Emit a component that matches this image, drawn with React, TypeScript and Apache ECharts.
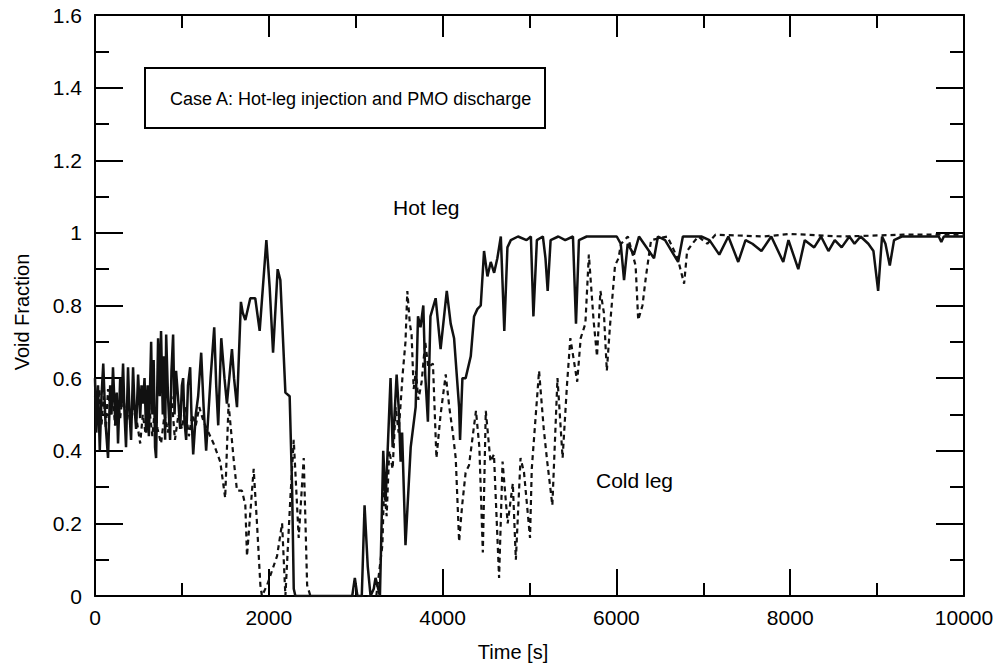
import React, { useEffect, useRef } from "react";
import * as echarts from "echarts";

// Tick values / labels
const xTicks = [0, 2000, 4000, 6000, 8000, 10000];
const yTicks = [0, 0.2, 0.4, 0.6, 0.8, 1, 1.2, 1.4, 1.6];

const titleText = "Case A: Hot-leg injection and PMO discharge";
const xAxisTitle = "Time [s]";
const yAxisTitle = "Void Fraction";
const hotLabel = "Hot leg";
const coldLabel = "Cold leg";

// Hot leg (solid) : [time s, void fraction]
const hotLeg: [number, number][] = [
  [0, 0.6], [15, 0.45], [35, 0.58], [55, 0.4], [75, 0.55], [95, 0.64], [120, 0.48], [150, 0.38],
  [175, 0.58], [190, 0.5], [207, 0.63], [235, 0.47], [250, 0.56], [265, 0.42], [290, 0.6], [305, 0.52],
  [323, 0.64], [340, 0.5], [357, 0.41], [380, 0.63], [398, 0.5], [415, 0.43], [438, 0.63], [455, 0.52],
  [473, 0.46], [496, 0.61], [520, 0.49], [535, 0.58], [553, 0.53], [570, 0.6], [588, 0.45], [605, 0.58],
  [620, 0.44], [646, 0.7], [660, 0.5], [675, 0.65], [691, 0.41], [703, 0.38], [726, 0.71], [745, 0.55],
  [760, 0.73], [780, 0.5], [795, 0.66], [807, 0.43], [819, 0.72], [840, 0.55], [864, 0.43], [880, 0.62],
  [899, 0.72], [915, 0.5], [933, 0.62], [955, 0.55], [980, 0.46], [1000, 0.58], [1014, 0.6], [1030, 0.48],
  [1049, 0.43], [1070, 0.58], [1095, 0.63], [1110, 0.5], [1130, 0.39], [1160, 0.5], [1187, 0.55], [1222, 0.67],
  [1250, 0.52], [1279, 0.4], [1330, 0.6], [1372, 0.74], [1395, 0.58], [1418, 0.47], [1453, 0.71], [1490, 0.6],
  [1518, 0.53], [1576, 0.68], [1600, 0.6], [1634, 0.52], [1679, 0.81], [1700, 0.78], [1730, 0.76], [1787, 0.82],
  [1844, 0.82], [1895, 0.73], [1972, 0.98], [2010, 0.85], [2049, 0.67], [2102, 0.9], [2133, 0.87], [2191, 0.56],
  [2240, 0.55], [2268, 0.3], [2287, 0.02], [2306, 0], [2960, 0], [2990, 0.05], [3020, 0], [3070, 0],
  [3102, 0.25], [3139, 0.08], [3171, 0], [3208, 0.02], [3228, 0.05], [3279, 0], [3317, 0.4], [3344, 0.26],
  [3376, 0.45], [3401, 0.6], [3425, 0.41], [3445, 0.49], [3471, 0.61], [3494, 0.52], [3517, 0.37], [3534, 0.45],
  [3573, 0.14], [3633, 0.41], [3690, 0.52], [3717, 0.77], [3746, 0.74], [3778, 0.8], [3800, 0.61], [3831, 0.48],
  [3860, 0.77], [3920, 0.82], [3977, 0.68], [4048, 0.84], [4093, 0.75], [4132, 0.71], [4190, 0.52], [4201, 0.43],
  [4228, 0.6], [4265, 0.6], [4324, 0.66], [4362, 0.77], [4400, 0.79], [4439, 0.8], [4477, 0.95], [4516, 0.88],
  [4554, 0.92], [4593, 0.89], [4630, 0.93], [4670, 0.99], [4710, 0.73], [4746, 0.96], [4785, 0.98], [4868, 0.99],
  [4966, 0.98], [5016, 0.99], [5045, 0.77], [5085, 0.98], [5154, 0.99], [5184, 0.93], [5209, 0.84], [5243, 0.98],
  [5332, 0.99], [5411, 0.98], [5500, 0.99], [5535, 0.75], [5569, 0.98], [5658, 0.99], [5806, 0.99], [6004, 0.99],
  [6050, 0.97], [6088, 0.87], [6130, 0.97], [6201, 0.94], [6260, 0.99], [6433, 0.93], [6478, 0.99], [6560, 0.98],
  [6710, 0.92], [6765, 0.99], [6977, 0.99], [7071, 0.98], [7184, 0.94], [7288, 0.99], [7402, 0.92], [7486, 0.98],
  [7565, 0.97], [7669, 0.95], [7782, 0.99], [7920, 0.92], [7980, 0.98], [8093, 0.9], [8168, 0.98], [8276, 0.96],
  [8355, 0.99], [8440, 0.95], [8513, 0.98], [8592, 0.96], [8681, 0.99], [8740, 0.97], [8810, 0.99], [8899, 0.97],
  [8958, 0.95], [9012, 0.84], [9057, 0.99], [9096, 0.97], [9146, 0.91], [9195, 0.98], [9284, 0.99], [9709, 0.99],
  [9739, 0.975], [9768, 0.99], [10000, 0.99],
];

// Cold leg (dashed) : [time s, void fraction]
const coldLeg: [number, number][] = [
  [0, 0.55], [25, 0.5], [50, 0.57], [75, 0.47], [100, 0.55], [125, 0.46], [150, 0.57], [180, 0.5],
  [205, 0.56], [230, 0.47], [260, 0.54], [290, 0.49], [320, 0.56], [350, 0.5], [380, 0.52], [410, 0.47],
  [440, 0.52], [470, 0.5], [520, 0.42], [550, 0.5], [580, 0.45], [620, 0.53], [660, 0.44], [690, 0.52],
  [720, 0.46], [760, 0.42], [800, 0.5], [840, 0.45], [880, 0.55], [920, 0.43], [960, 0.5], [1000, 0.46],
  [1040, 0.52], [1080, 0.44], [1120, 0.5], [1160, 0.47], [1200, 0.52], [1250, 0.48], [1288, 0.46], [1364, 0.42],
  [1441, 0.37], [1498, 0.27], [1537, 0.53], [1594, 0.38], [1634, 0.29], [1691, 0.29], [1730, 0.25], [1749, 0.11],
  [1826, 0.35], [1864, 0.2], [1903, 0.03], [1921, 0], [1980, 0.03], [2095, 0.11], [2153, 0.2], [2191, 0],
  [2248, 0.27], [2287, 0.43], [2344, 0.16], [2402, 0.38], [2441, 0.03], [2479, 0], [3237, 0], [3277, 0.08],
  [3307, 0.14], [3326, 0.3], [3356, 0.22], [3386, 0.4], [3425, 0.35], [3460, 0.52], [3494, 0.45], [3540, 0.61],
  [3573, 0.7], [3594, 0.84], [3623, 0.75], [3643, 0.72], [3667, 0.57], [3692, 0.62], [3721, 0.54], [3759, 0.59],
  [3800, 0.7], [3835, 0.63], [3889, 0.64], [3929, 0.38], [3977, 0.5], [4036, 0.61], [4077, 0.52], [4117, 0.45],
  [4151, 0.38], [4190, 0.15], [4225, 0.25], [4265, 0.34], [4304, 0.36], [4384, 0.51], [4423, 0.41], [4463, 0.12],
  [4497, 0.51], [4551, 0.37], [4591, 0.39], [4650, 0.05], [4690, 0.37], [4749, 0.2], [4808, 0.31], [4843, 0.1],
  [4897, 0.38], [4937, 0.34], [5006, 0.16], [5026, 0.35], [5110, 0.62], [5164, 0.46], [5204, 0.37], [5263, 0.25],
  [5322, 0.6], [5381, 0.38], [5431, 0.58], [5470, 0.71], [5549, 0.59], [5589, 0.71], [5643, 0.75], [5683, 0.94],
  [5737, 0.76], [5777, 0.66], [5816, 0.84], [5856, 0.78], [5890, 0.62], [5925, 0.74], [5984, 0.91], [6024, 0.93],
  [6053, 0.97], [6132, 0.99], [6221, 0.91], [6251, 0.76], [6300, 0.8], [6340, 0.88], [6399, 0.98], [6587, 0.99],
  [6705, 0.93], [6779, 0.86], [6814, 0.95], [6873, 0.97], [6943, 0.99], [7046, 0.97], [7140, 0.995], [7700, 0.99],
  [8000, 0.997], [8600, 0.99], [9300, 0.995], [10000, 0.995],
];

const FONT = "'Liberation Sans', Arial, Helvetica, sans-serif";

export default function App() {
  const ref = useRef<HTMLDivElement>(null);
  useEffect(() => {
    document.body.style.margin = "0";
    if (!ref.current) return;
    const chart = echarts.init(ref.current, null, { renderer: "svg" });
    const axisLine = { show: true, onZero: false, lineStyle: { color: "#000", width: 2 } };
    const tickStyle = { color: "#000", width: 2 };
    const xCommon = {
      type: "value" as const,
      min: xTicks[0],
      max: xTicks[xTicks.length - 1],
      interval: xTicks[1] - xTicks[0],
      axisLine,
      splitLine: { show: false },
    };
    const yCommon = {
      type: "value" as const,
      min: yTicks[0],
      max: yTicks[yTicks.length - 1],
      interval: 0.2,
      axisLine,
      splitLine: { show: false },
    };
    chart.setOption({
      animation: false,
      backgroundColor: "#fff",
      grid: { left: 95, right: 37, top: 15, bottom: 76, containLabel: false },
      xAxis: [
        {
          ...xCommon,
          position: "bottom",
          axisTick: { show: true, inside: true, length: 27, lineStyle: tickStyle },
          minorTick: { show: true, splitNumber: 2, length: 13, lineStyle: tickStyle },
          axisLabel: {
            show: true,
            color: "#000",
            fontSize: 21,
            fontFamily: FONT,
            margin: 11,
            formatter: (v: number) => String(v),
          },
        },
        {
          ...xCommon,
          position: "top",
          axisTick: { show: true, inside: true, length: 22, lineStyle: tickStyle },
          minorTick: { show: true, splitNumber: 2, length: 13, lineStyle: tickStyle },
          axisLabel: { show: false },
        },
      ],
      yAxis: [
        {
          ...yCommon,
          position: "left",
          axisTick: { show: true, inside: true, length: 28, lineStyle: tickStyle },
          minorTick: { show: true, splitNumber: 2, length: 14, lineStyle: tickStyle },
          axisLabel: {
            show: true,
            color: "#000",
            fontSize: 21,
            fontFamily: FONT,
            margin: 13,
            formatter: (v: number) => String(Math.round(v * 10) / 10),
          },
        },
        {
          ...yCommon,
          position: "right",
          axisTick: { show: true, inside: true, length: 28, lineStyle: tickStyle },
          minorTick: { show: true, splitNumber: 2, length: 14, lineStyle: tickStyle },
          axisLabel: { show: false },
        },
      ],
      series: [
        {
          name: coldLabel,
          type: "line",
          xAxisIndex: 0,
          yAxisIndex: 0,
          data: coldLeg,
          showSymbol: false,
          symbol: "none",
          lineStyle: { color: "#111", width: 2.2, type: [5, 4] },
          z: 2,
        },
        {
          name: hotLabel,
          type: "line",
          xAxisIndex: 0,
          yAxisIndex: 0,
          data: hotLeg,
          showSymbol: false,
          symbol: "none",
          lineStyle: { color: "#111", width: 2.5 },
          z: 3,
        },
      ],
      graphic: [
        {
          type: "rect",
          shape: { x: 145, y: 68, width: 400, height: 60 },
          style: { fill: "#fff", stroke: "#000", lineWidth: 2 },
          z: 10,
        },
        {
          type: "text",
          x: 170,
          y: 99,
          style: { text: titleText, fontSize: 18, fontFamily: FONT, fill: "#000", textVerticalAlign: "middle" },
          z: 11,
        },
        {
          type: "text",
          x: 393,
          y: 207,
          style: { text: hotLabel, fontSize: 21, fontFamily: FONT, fill: "#000", textVerticalAlign: "middle" },
          z: 11,
        },
        {
          type: "text",
          x: 596,
          y: 480,
          style: { text: coldLabel, fontSize: 21, fontFamily: FONT, fill: "#000", textVerticalAlign: "middle" },
          z: 11,
        },
        {
          type: "text",
          x: 513,
          y: 652,
          style: { text: xAxisTitle, fontSize: 20, fontFamily: FONT, fill: "#000", textAlign: "center", textVerticalAlign: "middle" },
          z: 11,
        },
        {
          type: "text",
          x: 22,
          y: 312,
          rotation: Math.PI / 2,
          style: { text: yAxisTitle, fontSize: 20, fontFamily: FONT, fill: "#000", textAlign: "center", textVerticalAlign: "middle" },
          z: 11,
        },
      ],
    });
    return () => chart.dispose();
  }, []);
  return <div ref={ref} style={{ width: 1001, height: 672 }} />;
}
